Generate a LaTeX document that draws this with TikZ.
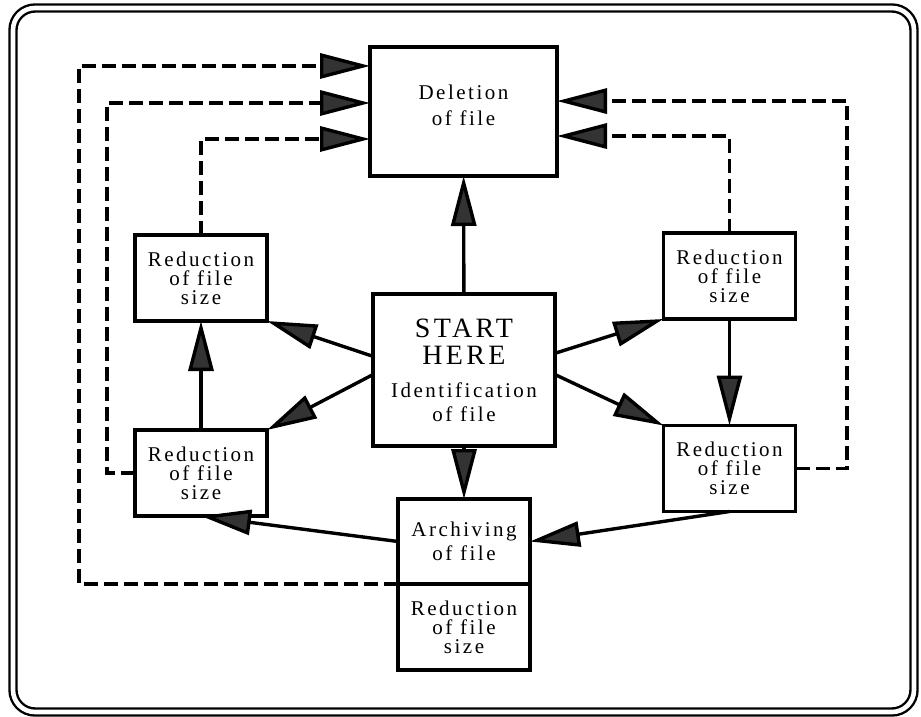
\documentclass[tikz,border=0pt]{standalone}
\usepackage{fontspec}
\setmainfont{Liberation Serif}[LetterSpace=12]
\usepackage{tikz}
\usetikzlibrary{arrows.meta,positioning,calc}
\tikzset{
block/.style = {draw, fill=white, rectangle, align=center, line width=1.7pt, inner sep=0pt, outer sep=0pt},
redblock/.style = {block, minimum width=66pt, minimum height=43pt, font=\fontsize{10.5}{9.5}\selectfont},
dline/.style = {line width=1.7pt, dash pattern=on 7pt off 3pt},
frame/.style = {line width=1.2pt, double, double distance=2.3pt, rounded corners=11pt}
}
\newcommand{\bigtxt}[1]{{\fontsize{14}{14}\selectfont #1}}

\begin{document}
\begin{tikzpicture}[x=0.5pt, y=-0.5pt, line width=1.7pt, >={Triangle[length=25pt,width=12.5pt,fill=black!80]}]
    \useasboundingbox (0,0) rectangle (921,717);
    \draw [frame] (13,8) rectangle (914,712);

    \node [block, minimum width=93.5pt, minimum height=64.5pt, font=\fontsize{10.5}{13}\selectfont] (del) at (463.5,111.5) {Deletion\\of file\\[-7pt]\mbox{}};
    \node [block, minimum width=91pt, minimum height=76pt, font=\fontsize{10.5}{11.7}\selectfont] (start) at (464,370)
       {\bigtxt{START}\\[2pt]\bigtxt{HERE}\\[5pt]Identification\\of file};
    \node [redblock] (ul) at (201,278) {Reduction\\of file\\size};
    \node [redblock] (ll) at (201,473) {Reduction\\of file\\size};
    \node [redblock] (ur) at (729.5,276) {Reduction\\of file\\size};
    \node [redblock] (lr) at (729.5,468.5) {Reduction\\of file\\size};
    \node [redblock, minimum height=42.5pt, font=\fontsize{10.5}{11.7}\selectfont] (archive) at (464,541.5) {Archiving\\of file};
    \node [redblock, below=0pt of archive] (archred) {Reduction\\of file\\size};

    % ends on the box sides
    \coordinate (d1) at ($(del.north west)!0.147!(del.south west)$);
    \coordinate (d2) at ($(del.north west)!0.434!(del.south west)$);
    \coordinate (d3) at ($(del.north west)!0.713!(del.south west)$);
    \coordinate (d4) at ($(del.north east)!0.419!(del.south east)$);
    \coordinate (d5) at ($(del.north east)!0.690!(del.south east)$);
    \coordinate (sl1) at ($(start.north west)!0.41!(start.south west)$);
    \coordinate (sl2) at ($(start.north west)!0.53!(start.south west)$);
    \coordinate (sr1) at ($(start.north east)!0.39!(start.south east)$);
    \coordinate (sr2) at ($(start.north east)!0.53!(start.south east)$);
    \coordinate (k1) at (79,0);
    \coordinate (k2) at (107,0);
    \coordinate (k4) at (847,0);

    \draw [->] (start) -- (del);
    \draw [->] (sl1) -- (ul.south east);
    \draw [->] (sl2) -- (ll.north east);
    \draw [->] (sr1) -- (ur.south west);
    \draw [->] (sr2) -- (lr.north west);
    \draw [->] (start) -- (archive);
    \draw [->] (ur) -- (lr);
    \draw [->] (ll) -- (ul);
    \draw [->] (lr.south) -- (archive.east);
    \draw [->] (archive.west) -- (ll.south);

    \draw [dline,->] (archive.south west) -| (d1 -| k1) -- (d1);
    \draw [dline,->] (ll.west) -| (d2 -| k2) -- (d2);
    \draw [dline,->] (ul.north) |- (d3);
    \draw [dline,->] (lr.east) -| (d4 -| k4) -- (d4);
    \draw [dline,->] (ur.north) |- (d5);
\end{tikzpicture}
\end{document}
